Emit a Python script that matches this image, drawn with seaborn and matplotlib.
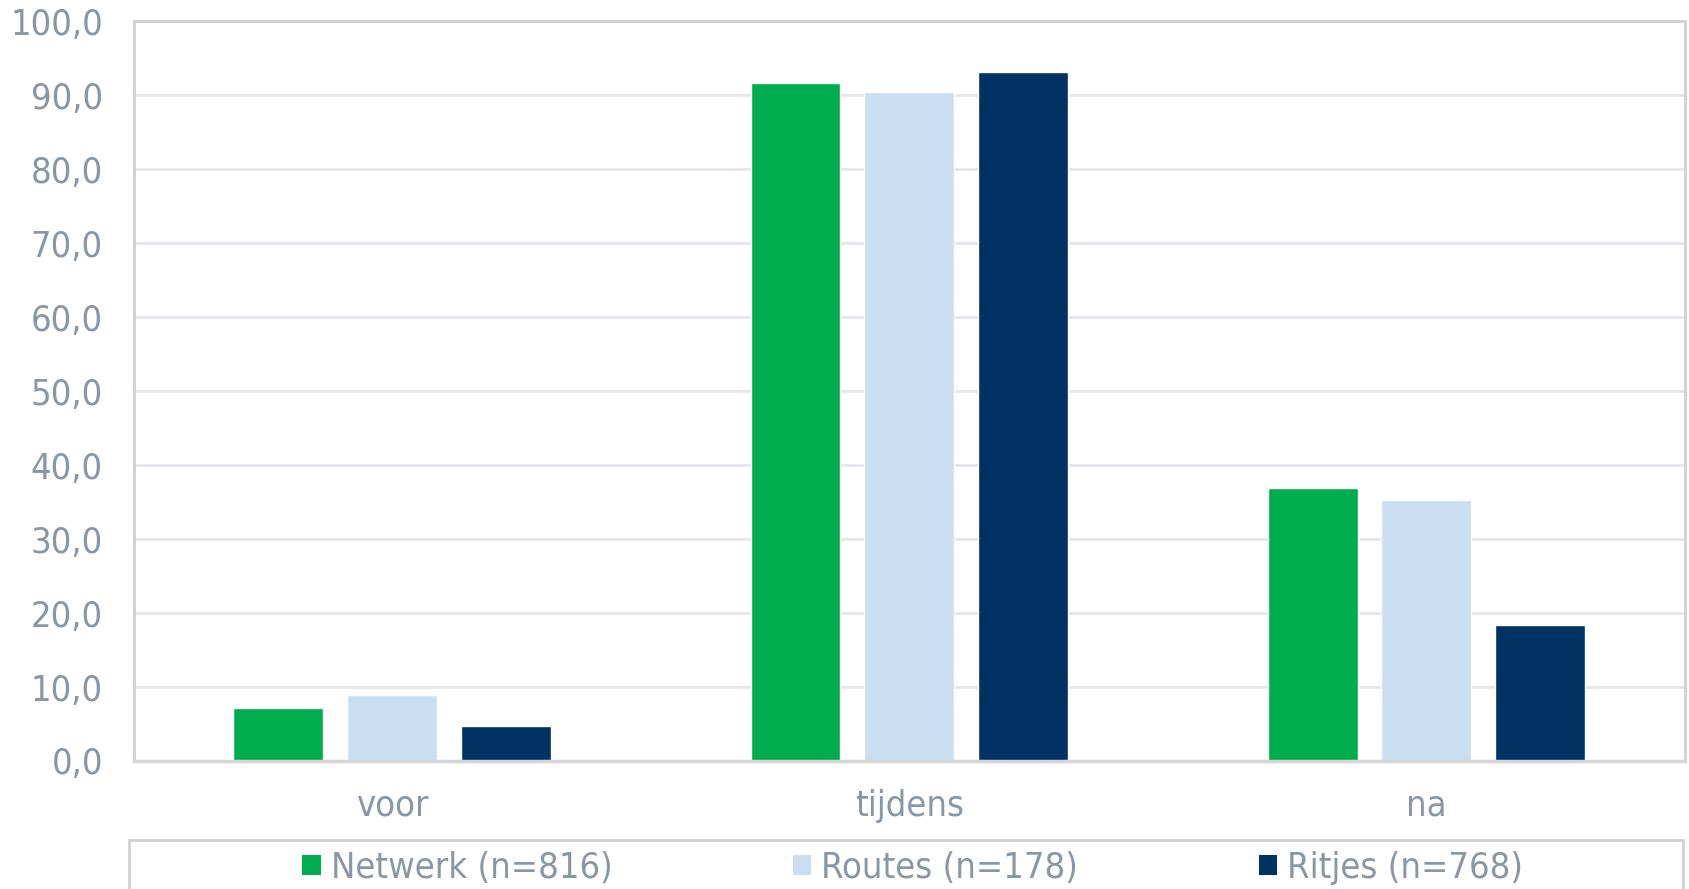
import pandas as pd
import matplotlib.pyplot as plt
import seaborn as sns
from matplotlib import font_manager
from matplotlib.patches import Patch, Rectangle
from matplotlib.ticker import FuncFormatter, MultipleLocator

# Data
moments = ['voor', 'tijdens', 'na']
series = ['Netwerk (n=816)', 'Routes (n=178)', 'Ritjes (n=768)']
netwerk = [7.1, 91.6, 36.9]
routes = [8.9, 90.4, 35.3]
ritjes = [4.7, 93.1, 18.4]
colors = ['#00AD4E', '#CADEF2', '#003263']

df = pd.DataFrame({
    'moment': moments * 3,
    'groep': [series[0]] * 3 + [series[1]] * 3 + [series[2]] * 3,
    'waarde': netwerk + routes + ritjes,
})

sns.set_style('white')
plt.rcParams['font.family'] = ['DejaVu Sans']

# the original text is a bit narrow for its height; use the condensed cut if present
has_condensed = any(f.name == 'DejaVu Sans' and f.stretch == 'condensed'
                    for f in font_manager.fontManager.ttflist)
if has_condensed:
    plt.rcParams['font.stretch'] = 'condensed'
    fs = 26
else:
    fs = 24
text_color = '#8797A6'

fig = plt.figure(figsize=(16.9, 8.89), dpi=100)
ax = fig.add_axes([0.079, 0.144, 0.918, 0.832])

sns.barplot(data=df, x='moment', y='waarde', hue='groep', order=moments,
            hue_order=series, palette=colors, width=0.66, gap=0.21,
            saturation=1, legend=False, ax=ax)

ax.set_ylim(0, 100)
ax.set_xlim(-0.5, 2.5)
ax.yaxis.set_major_locator(MultipleLocator(10))
ax.yaxis.set_major_formatter(FuncFormatter(lambda v, p: f'{v:.1f}'.replace('.', ',')))
ax.grid(axis='y', color='#E3E7EC', linewidth=2)
ax.set_axisbelow(True)
ax.set_xlabel('')
ax.set_ylabel('')
ax.tick_params(axis='both', length=0, labelsize=fs, labelcolor=text_color)
ax.tick_params(axis='y', pad=22)
ax.tick_params(axis='x', pad=20)

for side in ['left', 'top', 'right']:
    ax.spines[side].set_color('#D0D0D0')
    ax.spines[side].set_linewidth(2)
ax.spines['bottom'].set_color('#D6D6D6')
ax.spines['bottom'].set_linewidth(2.5)

# legend box
fig.patches.append(Rectangle((129 / 1690, -0.05), (1683 - 129) / 1690, 0.05 + (889 - 840) / 889,
                             transform=fig.transFigure, fill=False,
                             edgecolor='#D0D0D0', linewidth=2))
handles = [Patch(facecolor=c, edgecolor='none') for c in colors]
fig.legend(handles, series, loc='center', bbox_to_anchor=(0.54, 0.024), ncol=3,
           frameon=False, fontsize=fs, labelcolor=text_color,
           handlelength=0.5, handleheight=0.5, handletextpad=0.28,
           columnspacing=5.0)

fig.savefig('out.png', dpi=100)
